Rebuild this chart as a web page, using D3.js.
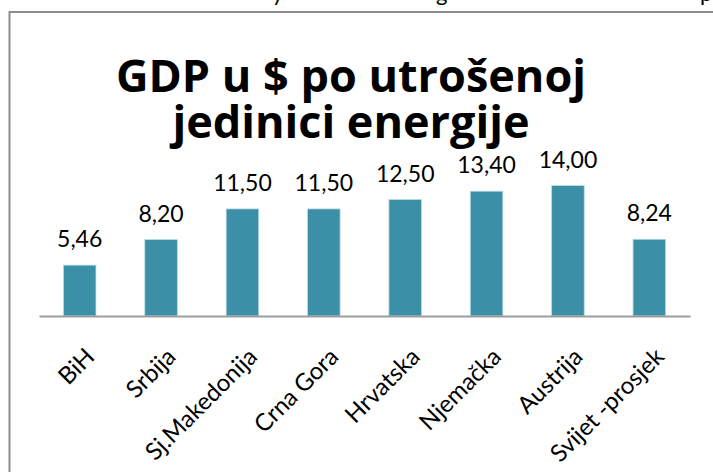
<!DOCTYPE html>
<html>
<head>
<meta charset="utf-8">
<script src="https://cdn.jsdelivr.net/npm/d3@7"></script>
<style>
  body { margin: 0; background: #fff; }
  svg { display: block; }
</style>
</head>
<body>
<div id="chart"></div>
<script>
var categories = ['BiH', 'Srbija', 'Sj.Makedonija', 'Crna Gora', 'Hrvatska', 'Njemačka', 'Austrija', 'Svijet -prosjek'];
var values = [5.46, 8.20, 11.50, 11.50, 12.50, 13.40, 14.00, 8.24];
var titleLines = ['GDP u $ po utrošenoj', 'jedinici energije'];

var width = 713, height = 472;
var margin = {top: 167, bottom: 156, left: 39, right: 23};
var innerW = width - margin.left - margin.right,
    innerH = height - margin.top - margin.bottom;

var svg = d3.select('#chart').append('svg')
    .attr('width', width)
    .attr('height', height);

// descenders of the text line above the chart (cut off by the picture edge)
svg.selectAll('.cut')
    .data([{c: 'y', x: 272}, {c: 'g', x: 436}, {c: 'p', x: 700}])
    .enter().append('text')
    .attr('class', 'cut')
    .attr('x', function (d) { return d.x; })
    .attr('y', 1)
    .attr('font-family', 'Lato, sans-serif')
    .attr('font-size', '22px')
    .attr('fill', '#000')
    .text(function (d) { return d.c; });

// chart frame
svg.append('rect')
    .attr('x', 9.5)
    .attr('y', 12)
    .attr('width', 760)
    .attr('height', 520)
    .attr('fill', 'none')
    .attr('stroke', '#8c8c8c')
    .attr('stroke-width', 2);

svg.append('text')
    .attr('x', 351)
    .attr('y', 92)
    .attr('text-anchor', 'middle')
    .attr('font-family', '"Open Sans", sans-serif')
    .attr('font-weight', 'bold')
    .attr('font-size', '45px')
    .selectAll('tspan')
    .data(titleLines)
    .enter().append('tspan')
    .attr('x', 351)
    .attr('dy', function (d, i) { return i === 0 ? 0 : 46; })
    .text(function (d) { return d; });

var g = svg.append('g')
    .attr('transform', 'translate(' + margin.left + ',' + margin.top + ')');

var x = d3.scaleBand()
    .domain(categories)
    .range([0, innerW])
    .paddingInner(0.6)
    .paddingOuter(0.3);

var y = d3.scaleLinear()
    .domain([0, 16])
    .range([innerH, 0]);

var data = categories.map(function (c, i) {
    return {name: c, value: values[i]};
});

g.selectAll('rect.bar')
    .data(data)
    .enter().append('rect')
    .attr('class', 'bar')
    .attr('x', function (d) { return x(d.name); })
    .attr('y', function (d) { return y(d.value); })
    .attr('width', x.bandwidth())
    .attr('height', function (d) { return innerH - y(d.value); })
    .attr('fill', '#3b8fa6')
    .attr('stroke', '#b9dbe4')
    .attr('stroke-width', 0.8);

var xAxis = g.append('g')
    .attr('class', 'x-axis')
    .attr('transform', 'translate(0,' + innerH + ')')
    .call(d3.axisBottom(x).tickSize(0).tickPadding(0));

xAxis.select('.domain')
    .attr('stroke', '#9d9d9d')
    .attr('stroke-width', 2);

xAxis.selectAll('text')
    .attr('font-family', 'Lato, sans-serif')
    .attr('font-size', '24px')
    .attr('fill', '#000')
    .attr('text-anchor', 'end')
    .attr('y', 0)
    .attr('dy', '0.72em')
    .attr('transform', 'translate(4,30) rotate(-45)');

g.selectAll('.val')
    .data(data)
    .enter().append('text')
    .attr('class', 'val')
    .attr('x', function (d) { return x(d.name) + x.bandwidth() / 2; })
    .attr('y', function (d) { return y(d.value) - 18; })
    .attr('text-anchor', 'middle')
    .attr('font-family', 'Lato, sans-serif')
    .attr('font-size', '23px')
    .attr('fill', '#000')
    .text(function (d) { return d3.format('.2f')(d.value).replace('.', ','); });
</script>
</body>
</html>
